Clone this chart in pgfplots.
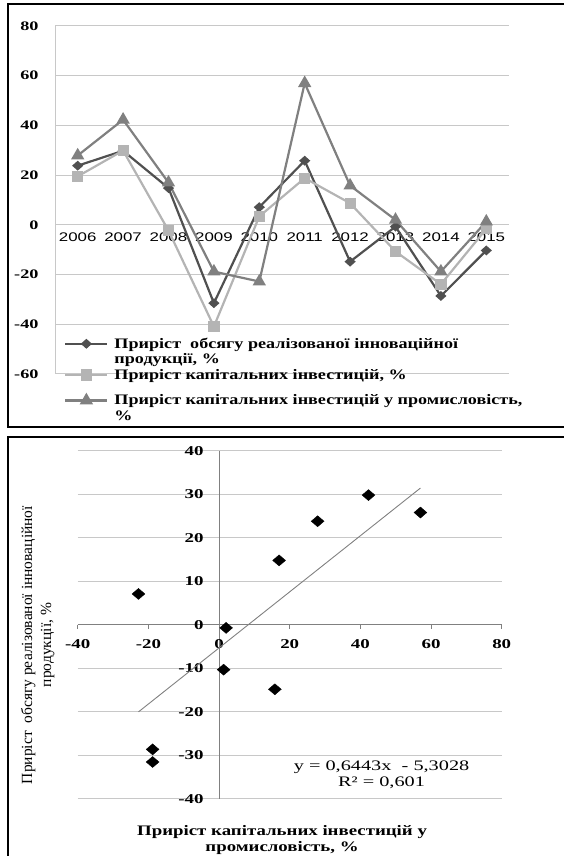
\documentclass[border=0pt]{standalone}
\usepackage{fontspec}
\setmainfont{Liberation Serif}
\newfontfamily\numfont[FakeStretch=1.4]{Liberation Serif}
\newfontfamily\yearfont[FakeStretch=1.35]{Liberation Sans}
\newfontfamily\legfont[FakeStretch=1.25]{Liberation Serif}
\newfontfamily\labfont[FakeStretch=1.3]{Liberation Serif}
\usepackage{pgfplots}
\usepackage{pgfplotstable}
\pgfplotsset{compat=1.18}

\definecolor{sA}{HTML}{505050}
\definecolor{sB}{HTML}{B4B4B4}
\definecolor{sC}{HTML}{808080}
\definecolor{gridc}{HTML}{C8C8C8}

% i = year index, vol = innovation output growth, cap = capital investment growth, ind = industry investment growth
\pgfplotstableread{
i year vol cap ind
0 2006 23.8 19.5 27.9
1 2007 29.8 29.9 42.3
2 2008 14.8 -2.3 17.0
3 2009 -31.5 -40.9 -18.8
4 2010 7.1 3.4 -22.8
5 2011 25.8 18.8 57.0
6 2012 -14.8 8.7 15.8
7 2013 -0.7 -10.7 2.0
8 2014 -28.6 -23.9 -18.8
9 2015 -10.3 -1.6 1.3
}\growth

% one legend line: strut height, then text
\newcommand{\lrow}[2]{\rule[-4pt]{0pt}{#1}#2}

\begin{document}
\begin{tikzpicture}
\useasboundingbox (0pt,0pt) rectangle (563pt,856pt);
\draw[line width=1.4pt] (8pt,852pt) rectangle (580pt,429pt);
\draw[line width=1.4pt] (8pt,419pt) rectangle (580pt,-10pt);

\begin{axis}[
  at={(55pt,482pt)}, anchor=south west,
  scale only axis, width=454pt, height=348pt,
  xmin=-0.5, xmax=9.5, ymin=-60, ymax=80,
  xtick={0,...,9},
  xticklabels={2006,2007,2008,2009,2010,2011,2012,2013,2014,2015},
  ytick={-60,-40,...,80},
  axis x line=middle, axis y line=left,
  axis line style={-, gridc, line width=1pt},
  major tick length=0pt,
  ymajorgrids, grid style={gridc, line width=1pt},
  /pgf/number format/assume math mode=true,
  yticklabel style={font=\numfont\bfseries\fontsize{13}{13}\selectfont, xshift=-13pt},
  xticklabel style={font=\yearfont\fontsize{12.5}{12.5}\selectfont, yshift=-4pt},
  clip=false,
  legend image code/.code={\draw[mark repeat=2,mark phase=2,#1] plot coordinates {(0pt,4.5pt) (21pt,4.5pt) (42pt,4.5pt)};},
  legend style={at={(0.02,0.11)}, anchor=north west, draw=none, fill=none, inner sep=0pt,
    font=\legfont\bfseries\fontsize{14.5}{17}\selectfont,
    cells={anchor=base west, inner sep=0pt}, row sep=0pt, column sep=4pt},
]
\addplot[sA, line width=2.2pt, mark=diamond*, mark size=3.5pt, mark options={xscale=1.5}] table[x=i, y=vol] {\growth};
\addlegendentry{\lrow{11pt}{Приріст\ \ обсягу реалізованої інноваційної}}
\addlegendimage{empty legend}
\addlegendentry{\lrow{13pt}{продукції, \%}}
\addplot[sB, line width=2.2pt, mark=square*, mark size=4.5pt] table[x=i, y=cap] {\growth};
\addlegendentry{\lrow{11pt}{Приріст капітальних інвестицій, \%}}
\addplot[sC, line width=2.2pt, mark=triangle*, mark size=5.5pt] table[x=i, y=ind] {\growth};
\addlegendentry{\lrow{24pt}{Приріст капітальних інвестицій у промисловість,}}
\addlegendimage{empty legend}
\addlegendentry{\lrow{11pt}{\%}}
\end{axis}

\begin{axis}[
  at={(77.7pt,57pt)}, anchor=south west,
  scale only axis, width=424pt, height=348.3pt,
  xmin=-40, xmax=80, ymin=-40, ymax=40,
  xtick={-40,-20,...,80}, ytick={-40,-30,...,40},
  axis lines=middle, axis line style={-, gray, line width=0.8pt},
  hide obscured x ticks=false, hide obscured y ticks=false,
  xtick style={gray, line width=0.8pt}, ytick style={draw=none},
  tick align=outside, major tick length=4pt,
  ymajorgrids, grid style={gridc, line width=1pt},
  /pgf/number format/assume math mode=true,
  ticklabel style={font=\numfont\bfseries\fontsize{13.5}{13.5}\selectfont},
  xticklabel style={yshift=-7pt},
  yticklabel style={xshift=-8pt},
  clip=false,
  xlabel={Приріст капітальних інвестицій у\\промисловість, \%},
  xlabel style={at={(rel axis cs:0.482,-0.118)}, anchor=center, align=center,
    font=\labfont\bfseries\fontsize{14.5}{16}\selectfont},
  ylabel={Приріст\ \ обсягу реалізованої інноваційної\\продукції, \%},
  ylabel style={at={(rel axis cs:-0.094,0.442)}, anchor=center, rotate=90, align=center,
    font=\fontsize{15.5}{19}\selectfont},
]
\addplot[only marks, black, mark=diamond*, mark size=5.5pt, mark options={xscale=1.55}] table[x=ind, y=vol] {\growth};
\addplot[gray, line width=0.9pt] coordinates {(-22.8,-19.99) (57,31.42)};
\node[align=center, font=\numfont\fontsize{14.5}{16}\selectfont] at (axis cs:46,-34.5) {y = 0,6443x\ \ - 5,3028\\R² = 0,601};
\end{axis}
\end{tikzpicture}
\end{document}
